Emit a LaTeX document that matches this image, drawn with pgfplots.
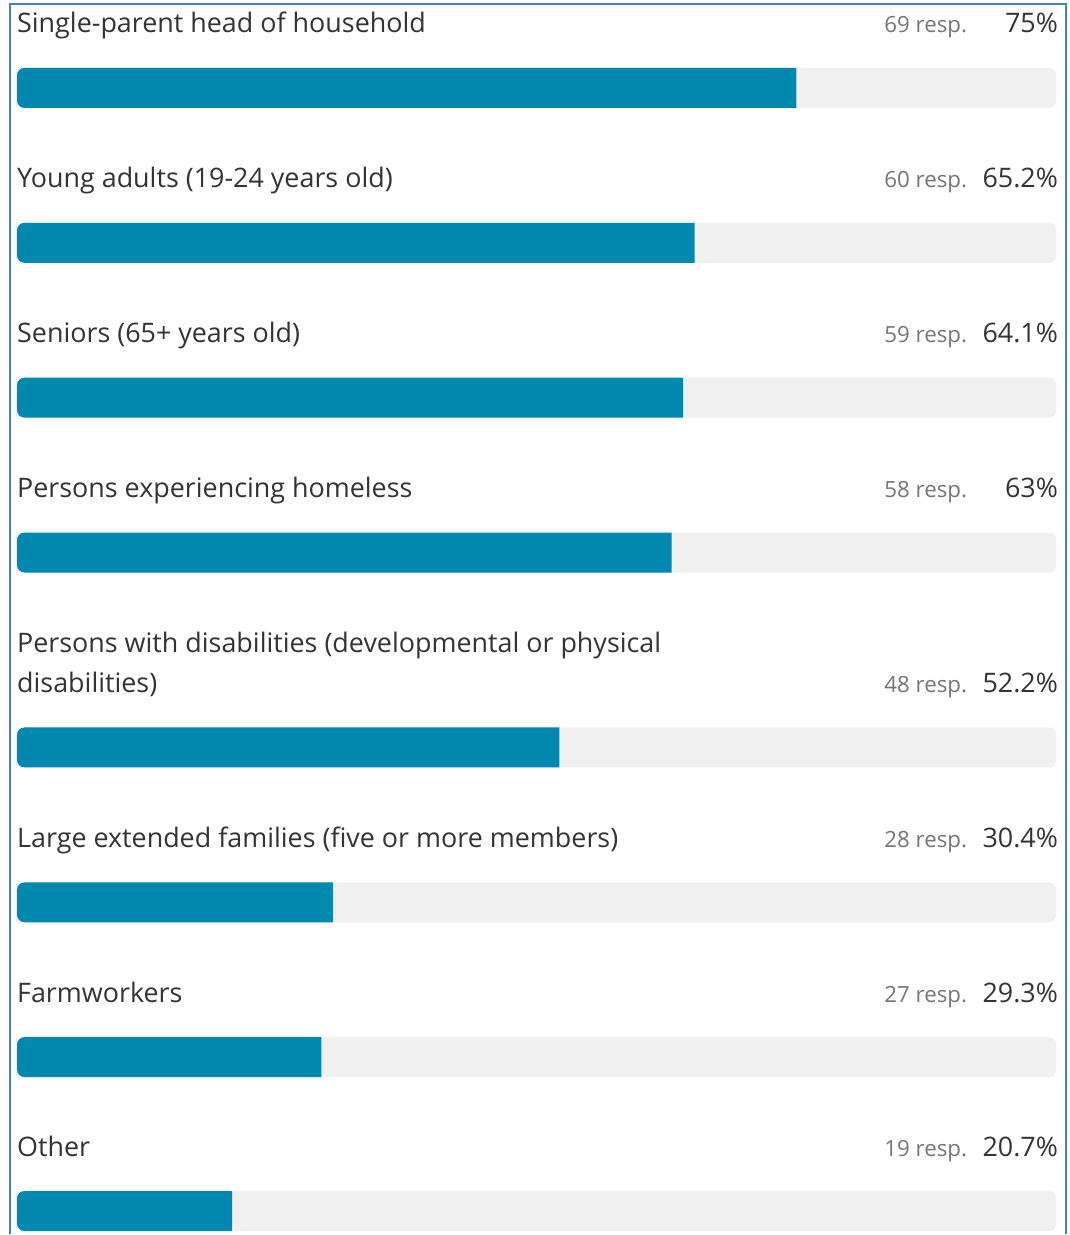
\documentclass[border=0pt]{standalone}
\usepackage{pgfplots}
\pgfplotsset{compat=1.18}
\usepackage{pgfplotstable}
\usepackage{fontspec}
\setmainfont{Open Sans}

\definecolor{barblue}{RGB}{3,136,176}
\definecolor{track}{RGB}{240,240,240}
\definecolor{labeltext}{RGB}{52,52,52}
\definecolor{resptext}{RGB}{118,118,118}
\definecolor{frameblue}{RGB}{72,122,214}

% pos = bar centre in pixel rows from the top
\pgfplotstableread[col sep=comma]{
pos,resp,pct
88,69,75
243,60,65.2
398,59,64.1
553,58,63
748,48,52.2
903,28,30.4
1058,27,29.3
1212,19,20.7
}\shares

\newcommand{\labelfont}{\fontsize{27}{40}\selectfont}
\newcommand{\respfont}{\fontsize{22.4}{26}\selectfont}

% white masks that round the two left corners of a 40bp high bar
\pgfdeclareplotmark{leftcaps}{%
  \pgfsetfillcolor{white}%
  \pgfpathmoveto{\pgfqpoint{0bp}{13bp}}%
  \pgfpathlineto{\pgfqpoint{0bp}{20.5bp}}%
  \pgfpathlineto{\pgfqpoint{7bp}{20.5bp}}%
  \pgfpathlineto{\pgfqpoint{7bp}{20bp}}%
  \pgfpatharc{90}{180}{7bp}%
  \pgfpathclose
  \pgfpathmoveto{\pgfqpoint{0bp}{-13bp}}%
  \pgfpathlineto{\pgfqpoint{0bp}{-20.5bp}}%
  \pgfpathlineto{\pgfqpoint{7bp}{-20.5bp}}%
  \pgfpathlineto{\pgfqpoint{7bp}{-20bp}}%
  \pgfpatharc{270}{180}{7bp}%
  \pgfpathclose
  \pgfusepathqfill
}

% one picture unit = one pixel = 1bp
\pgfplotsset{
  panel/.style={
    scale only axis, width=1070bp, height=1235bp,
    xmin=-1.6346, xmax=101.25, ymin=0, ymax=1235, y dir=reverse,
    hide axis, clip=false,
    /pgf/number format/assume math mode=true,
  },
  rowbar/.style={xbar, bar shift=0pt, bar width=40bp, draw=none},
}

\begin{document}
\begin{tikzpicture}
\begin{axis}[panel]
\fill[white] (rel axis cs:0,0) rectangle (rel axis cs:1,1);
\addplot[rowbar, fill=track, rounded corners=7bp] table[x expr=100, y=pos]{\shares};
\addplot[rowbar, fill=barblue] table[x=pct, y=pos]{\shares};
\addplot[only marks, mark=leftcaps] table[x expr=0, y=pos]{\shares};

% response counts and shares
\addplot[only marks, mark=none, point meta=\thisrow{resp},
  nodes near coords={\pgfmathprintnumber{\pgfplotspointmeta} resp.},
  every node near coord/.style={anchor=base east, inner sep=0pt, font=\respfont, text=resptext}]
  table[x expr=91.44, y expr=\thisrow{pos}-55]{\shares};
\addplot[only marks, mark=none, point meta=\thisrow{pct},
  nodes near coords={\pgfmathprintnumber{\pgfplotspointmeta}\%},
  every node near coord/.style={anchor=base east, inner sep=0pt, font=\labelfont, text=labeltext}]
  table[x expr=100.19, y expr=\thisrow{pos}-55]{\shares};

\begin{scope}[every node/.style={anchor=base west, inner sep=0pt, font=\labelfont, text=labeltext}]
\node at (axis cs:0,33) {Single-parent head of household};
\node at (axis cs:0,188) {Young adults (19-24 years old)};
\node at (axis cs:0,343) {Seniors (65+ years old)};
\node at (axis cs:0,498) {Persons experiencing homeless};
\node at (axis cs:0,653) {Persons with disabilities (developmental or physical};
\node at (axis cs:0,693) {disabilities)};
\node at (axis cs:0,848) {Large extended families (five or more members)};
\node at (axis cs:0,1003) {Farmworkers};
\node at (axis cs:0,1157) {Other};
\end{scope}

\draw[frameblue, line width=2bp] (axis cs:-0.625,1235) -- (axis cs:-0.625,4)
  -- (axis cs:100.91,4) -- (axis cs:100.91,1235);
\end{axis}
\end{tikzpicture}
\end{document}
